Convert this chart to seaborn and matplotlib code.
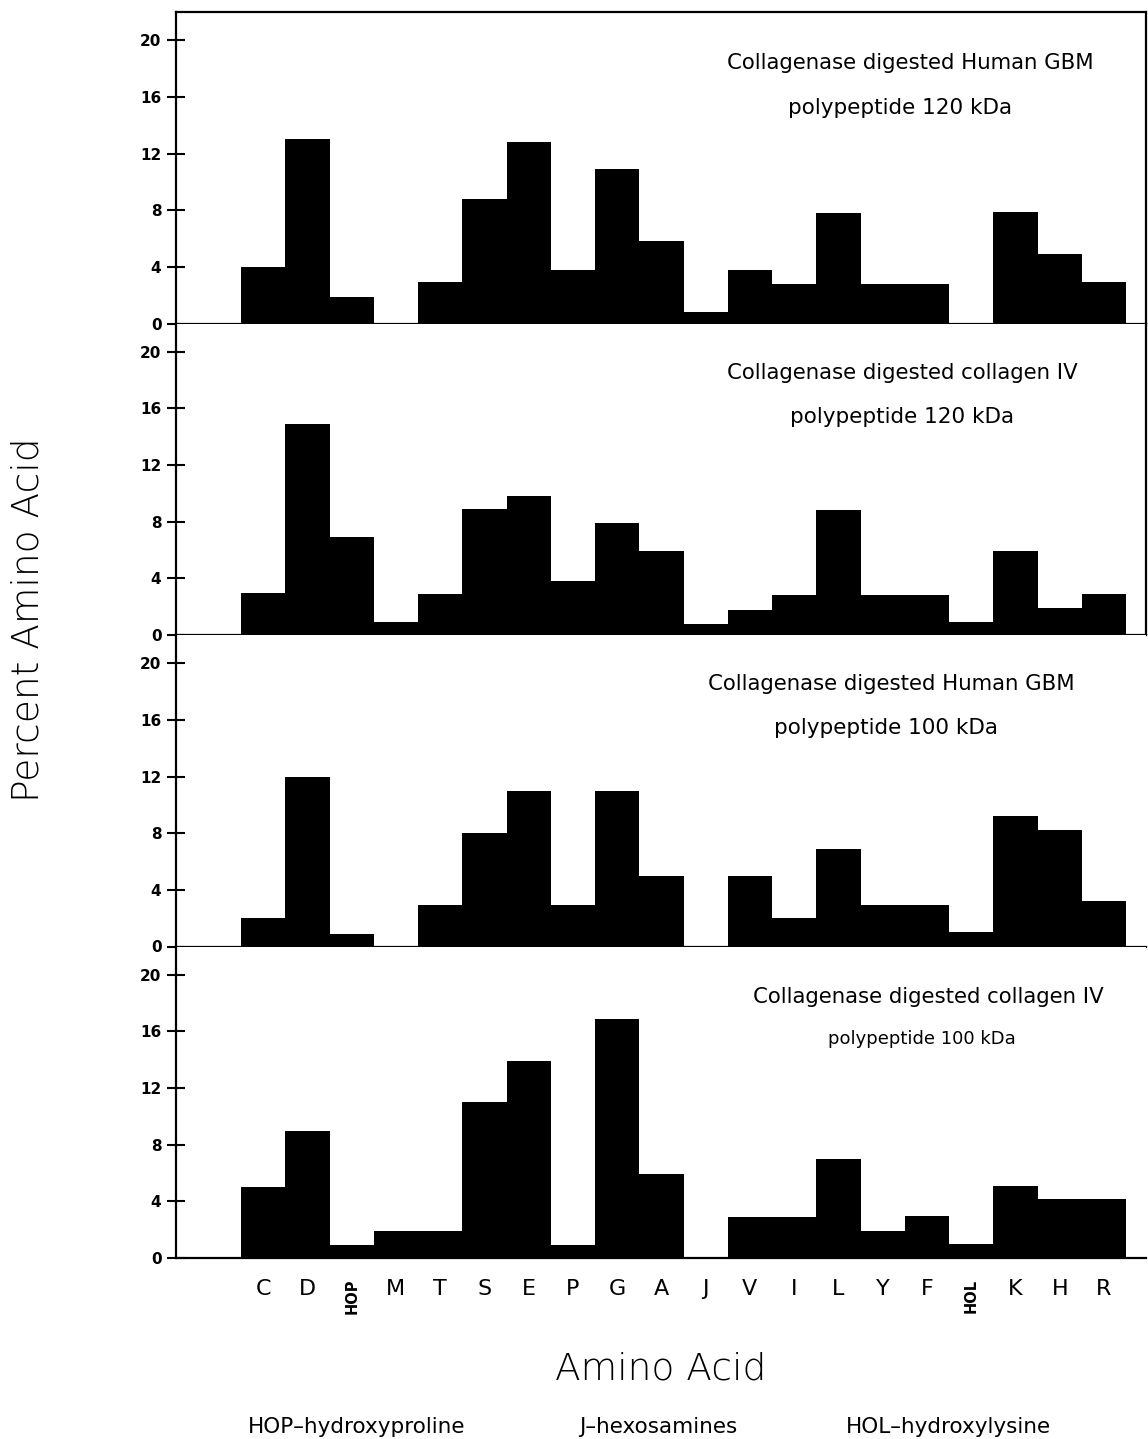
import numpy as np
import pandas as pd
import matplotlib
matplotlib.use('Agg')
from matplotlib import pyplot as plt
import seaborn as sns

# amino acid categories along the x axis
amino_acids = ['C', 'D', 'HOP', 'M', 'T', 'S', 'E', 'P', 'G', 'A',
               'J', 'V', 'I', 'L', 'Y', 'F', 'HOL', 'K', 'H', 'R']

# percent amino acid (top to bottom)
gbm_120 = [4.0, 13.0, 1.9, 0.0, 2.9, 8.8, 12.8, 3.8, 10.9, 5.8,
           0.8, 3.8, 2.8, 7.8, 2.8, 2.8, 0.0, 7.9, 4.9, 2.9]
col4_120 = [3.0, 14.9, 6.9, 0.9, 2.9, 8.9, 9.8, 3.8, 7.9, 5.9,
            0.8, 1.8, 2.8, 8.8, 2.8, 2.8, 0.9, 5.9, 1.9, 2.9]
gbm_100 = [2.0, 12.0, 0.9, 0.0, 2.9, 8.0, 11.0, 2.9, 11.0, 5.0,
           0.0, 5.0, 2.0, 6.9, 2.9, 2.9, 1.0, 9.2, 8.2, 3.2]
col4_100 = [5.0, 9.0, 0.9, 1.9, 1.9, 11.0, 13.9, 0.9, 16.9, 5.9,
            0.0, 2.9, 2.9, 7.0, 1.9, 3.0, 1.0, 5.1, 4.2, 4.2]

panel_values = [gbm_120, col4_120, gbm_100, col4_100]
panel_line1 = ['Collagenase digested Human GBM', 'Collagenase digested collagen IV',
               'Collagenase digested Human GBM', 'Collagenase digested collagen IV']
panel_line2 = ['polypeptide 120 kDa', 'polypeptide 120 kDa',
               'polypeptide 100 kDa', 'polypeptide 100 kDa']
# text placement inside each panel (axes fraction)
line1_pos = [(0.757, 0.836), (0.749, 0.841), (0.737, 0.843), (0.776, 0.838)]
line2_pos = [(0.746, 0.692), (0.749, 0.700), (0.732, 0.701), (0.769, 0.703)]
line2_size = [15.5, 15.5, 15.5, 13]

y_ticks = [0, 4, 8, 12, 16, 20]

sns.set_style('ticks')
plt.rcParams['font.family'] = ['DejaVu Sans']
plt.rcParams['text.color'] = 'black'
plt.rcParams['axes.labelcolor'] = 'black'
plt.rcParams['xtick.color'] = 'black'
plt.rcParams['ytick.color'] = 'black'

fig = plt.figure(figsize=(11.48, 14.39), dpi=100)
left, right = 176 / 1148, 1146 / 1148
top, bottom = 1 - 12 / 1439, 1 - 1258 / 1439
h = (top - bottom) / 4

axes = []
for i, vals in enumerate(panel_values):
    ax = fig.add_axes([left, top - (i + 1) * h, right - left, h])
    df = pd.DataFrame({'aa': amino_acids, 'pct': vals})
    sns.barplot(data=df, x='aa', y='pct', order=amino_acids, color='black',
                saturation=1, width=1.0, linewidth=0, ax=ax)
    ax.set_xlim(-1.97, 19.95)
    ax.set_ylim(0, 22)
    ax.set_yticks(y_ticks)
    ax.set_yticklabels([str(t) for t in y_ticks], fontsize=11, fontweight='bold')
    ax.tick_params(axis='y', direction='inout', length=13, width=1.5, pad=4)
    ax.tick_params(axis='x', length=0)
    ax.set_xlabel('')
    ax.set_ylabel('')
    for sp in ax.spines.values():
        sp.set_linewidth(1.6)
        sp.set_color('black')
    if i > 0:
        ax.spines['top'].set_visible(False)
    if i > 1:
        ax.spines['right'].set_visible(False)
    ax.text(*line1_pos[i], panel_line1[i], transform=ax.transAxes,
            ha='center', va='center', fontsize=15.3)
    ax.text(*line2_pos[i], panel_line2[i], transform=ax.transAxes,
            ha='center', va='center', fontsize=line2_size[i])
    if i < 3:
        ax.set_xticklabels([])
    axes.append(ax)

ax4 = axes[-1]
ax4.set_xticks(range(len(amino_acids)))
ax4.set_xticklabels(amino_acids, fontsize=16)
ax4.tick_params(axis='x', pad=15)
for lab in ax4.get_xticklabels():
    if len(lab.get_text()) == 3:
        lab.set_rotation(90)
        lab.set_fontsize(10.5)
        lab.set_fontweight('bold')
ax4.set_xlabel('Amino Acid', fontsize=27, fontweight='light', labelpad=27)

fig.text(28 / 1148, 1 - 620 / 1439, 'Percent Amino Acid', rotation=90,
         ha='center', va='center', fontsize=27, fontweight='light')

footnotes = ['HOP\u2013hydroxyproline', 'J\u2013hexosamines', 'HOL\u2013hydroxylysine']
foot_x = [357, 658, 948]
for txt, fx in zip(footnotes, foot_x):
    fig.text(fx / 1148, 1 - 1427 / 1439, txt, ha='center', va='center', fontsize=15.5)

fig.savefig('out.png', dpi=100)
